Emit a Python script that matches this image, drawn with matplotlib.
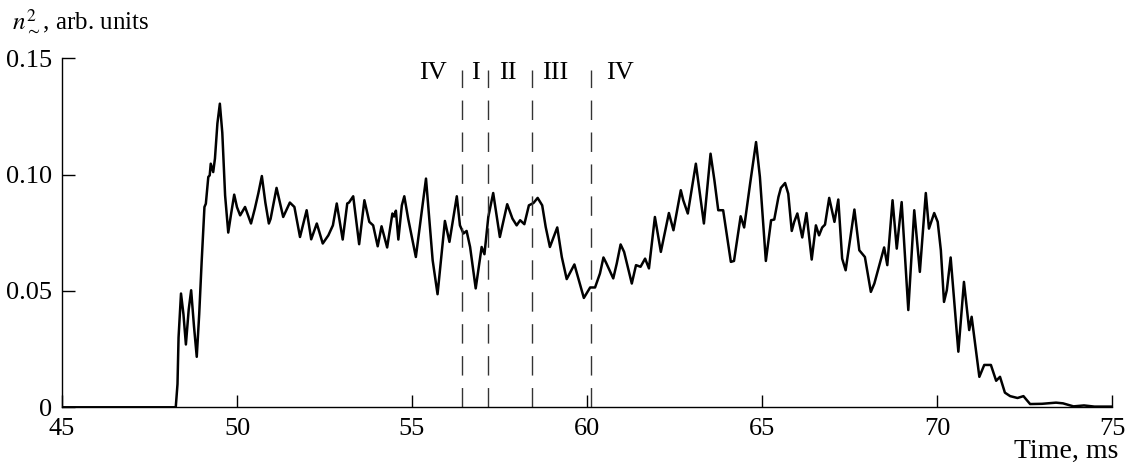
import matplotlib
matplotlib.use("Agg")
import matplotlib.pyplot as plt

plt.rcParams['font.family'] = ['Liberation Serif', 'DejaVu Serif']
plt.rcParams['mathtext.fontset'] = 'stix'

time_ms = [45.00, 48.25, 48.30, 48.33, 48.40, 48.47, 48.54, 48.62, 48.69, 48.77, 48.85, 48.92,
           48.99, 49.07, 49.11, 49.18, 49.22, 49.25, 49.32, 49.37, 49.44, 49.51, 49.58, 49.66,
           49.75, 49.83, 49.92, 50.00, 50.09, 50.23, 50.40, 50.51, 50.61, 50.71, 50.81, 50.91,
           50.96, 51.13, 51.32, 51.51, 51.64, 51.80, 51.99, 52.12, 52.28, 52.45, 52.61, 52.74,
           52.85, 53.02, 53.15, 53.20, 53.32, 53.49, 53.64, 53.78, 53.89, 54.02, 54.13, 54.29,
           54.44, 54.49, 54.54, 54.61, 54.71, 54.78, 54.89, 55.11, 55.40, 55.59, 55.73, 55.94,
           56.07, 56.28, 56.37, 56.47, 56.56, 56.66, 56.82, 56.99, 57.07, 57.18, 57.32, 57.51,
           57.72, 57.87, 57.99, 58.09, 58.21, 58.34, 58.47, 58.59, 58.72, 58.82, 58.94, 59.15,
           59.28, 59.42, 59.64, 59.91, 60.09, 60.23, 60.37, 60.47, 60.55, 60.75, 60.85, 60.96,
           61.06, 61.28, 61.40, 61.53, 61.66, 61.77, 61.94, 62.11, 62.34, 62.47, 62.68, 62.75,
           62.88, 63.11, 63.34, 63.53, 63.64, 63.75, 63.89, 64.11, 64.20, 64.39, 64.49, 64.66,
           64.83, 64.94, 65.11, 65.26, 65.35, 65.47, 65.54, 65.66, 65.75, 65.85, 65.92, 66.01,
           66.15, 66.27, 66.42, 66.54, 66.63, 66.72, 66.80, 66.92, 67.07, 67.18, 67.29, 67.39,
           67.64, 67.78, 67.94, 68.11, 68.21, 68.49, 68.58, 68.73, 68.85, 68.99, 69.18, 69.35,
           69.51, 69.68, 69.77, 69.92, 70.02, 70.11, 70.20, 70.28, 70.39, 70.61, 70.77, 70.92,
           70.99, 71.21, 71.35, 71.54, 71.69, 71.80, 71.94, 72.09, 72.30, 72.47, 72.66, 73.00,
           73.40, 73.60, 73.90, 74.20, 74.50, 75.00]

n2_values = [0.0000, 0.0000, 0.0100, 0.0300, 0.0489, 0.0400, 0.0270, 0.0420, 0.0503, 0.0350, 0.0217, 0.0400,
             0.0625, 0.0861, 0.0875, 0.0990, 0.0997, 0.1047, 0.1011, 0.1069, 0.1220, 0.1305, 0.1180, 0.0911,
             0.0751, 0.0830, 0.0914, 0.0860, 0.0825, 0.0861, 0.0790, 0.0854, 0.0920, 0.0994, 0.0880, 0.0790,
             0.0810, 0.0943, 0.0818, 0.0880, 0.0861, 0.0732, 0.0847, 0.0722, 0.0790, 0.0704, 0.0739, 0.0782,
             0.0876, 0.0721, 0.0876, 0.0880, 0.0907, 0.0701, 0.0890, 0.0797, 0.0782, 0.0692, 0.0778, 0.0687,
             0.0833, 0.0820, 0.0845, 0.0721, 0.0868, 0.0907, 0.0811, 0.0646, 0.0983, 0.0632, 0.0486, 0.0801,
             0.0711, 0.0907, 0.0782, 0.0747, 0.0758, 0.0689, 0.0511, 0.0689, 0.0658, 0.0818, 0.0921, 0.0732,
             0.0873, 0.0811, 0.0782, 0.0804, 0.0787, 0.0868, 0.0878, 0.0900, 0.0868, 0.0775, 0.0689, 0.0773,
             0.0646, 0.0551, 0.0614, 0.0470, 0.0515, 0.0515, 0.0575, 0.0644, 0.0620, 0.0554, 0.0618, 0.0700,
             0.0668, 0.0532, 0.0611, 0.0604, 0.0639, 0.0597, 0.0818, 0.0668, 0.0835, 0.0761, 0.0933, 0.0890,
             0.0833, 0.1047, 0.0790, 0.1090, 0.0976, 0.0847, 0.0847, 0.0625, 0.0629, 0.0821, 0.0773, 0.0961,
             0.1140, 0.0990, 0.0629, 0.0804, 0.0807, 0.0904, 0.0943, 0.0964, 0.0918, 0.0758, 0.0797, 0.0833,
             0.0730, 0.0835, 0.0635, 0.0782, 0.0739, 0.0773, 0.0785, 0.0900, 0.0797, 0.0893, 0.0639, 0.0589,
             0.0850, 0.0675, 0.0646, 0.0496, 0.0532, 0.0687, 0.0611, 0.0890, 0.0682, 0.0882, 0.0418, 0.0847,
             0.0582, 0.0921, 0.0768, 0.0835, 0.0797, 0.0675, 0.0453, 0.0503, 0.0644, 0.0239, 0.0539, 0.0332,
             0.0389, 0.0131, 0.0182, 0.0182, 0.0114, 0.0131, 0.0063, 0.0048, 0.0040, 0.0048, 0.0014, 0.0015,
             0.0020, 0.0017, 0.0004, 0.0008, 0.0003, 0.0003]

phase_boundaries = [56.43, 57.17, 58.43, 60.12]
phase_labels = ["IV", "I", "II", "III", "IV"]
phase_label_x = [55.6, 56.8, 57.75, 59.1, 60.95]

x_ticks = [45, 50, 55, 60, 65, 70, 75]
y_ticks = [0, 0.05, 0.10, 0.15]
y_tick_labels = ["0", "0.05", "0.10", "0.15"]

fig = plt.figure(figsize=(11.29, 4.66), dpi=100)
ax = fig.add_axes([62/1129, (466-407.3)/466, 1050/1129, (407.3-58.3)/466])

ax.plot(time_ms, n2_values, color='black', lw=1.8, solid_joinstyle='round')

for xb in phase_boundaries:
    ax.plot([xb, xb], [0, 0.1448], color='#333333', lw=1.0, linestyle=(0, (14, 9)))

for lab, xl in zip(phase_labels, phase_label_x):
    ax.text(xl, 0.1435, lab, ha='center', va='center', fontsize=19)

ax.set_xlim(45, 75)
ax.set_ylim(0, 0.15)
ax.set_xticks(x_ticks)
ax.set_xticklabels([str(t) for t in x_ticks])
ax.set_yticks(y_ticks)
ax.set_yticklabels(y_tick_labels)
ax.tick_params(direction='in', length=9, width=1.0, labelsize=19, colors='black')
ax.tick_params(axis='x', pad=8)
ax.tick_params(axis='y', pad=7)
for s in ['top', 'right']:
    ax.spines[s].set_visible(False)
for s in ['left', 'bottom']:
    ax.spines[s].set_linewidth(1.0)

fig.text(12/1129, 1 - 28/466, r'$n^{2}_{\sim}$, arb. units', fontsize=18, va='baseline', ha='left')
fig.text(1118/1129, 1 - 458/466, 'Time, ms', fontsize=20, va='baseline', ha='right')

fig.savefig('out.png', dpi=100)
